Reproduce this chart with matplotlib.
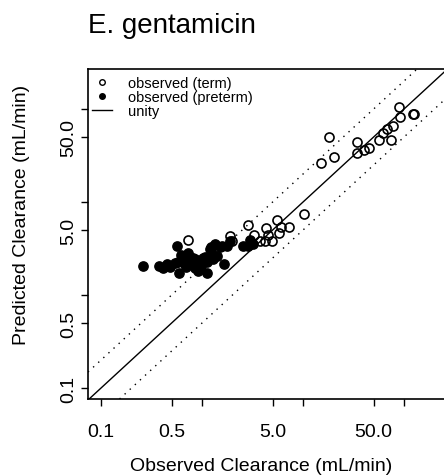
import numpy as np
import matplotlib
matplotlib.use("Agg")
import matplotlib.pyplot as plt
from matplotlib.lines import Line2D

plt.rcParams['font.family'] = ['Liberation Sans', 'DejaVu Sans']

# observed vs predicted clearance (mL/min)
term_obs = [89.2, 91.2, 122.8, 125.6, 18.1, 34.3, 77.8, 67.9, 62.0, 56.5, 74.3,
            45.0, 40.1, 34.3, 20.3, 15.1, 10.2, 5.53, 7.27, 6.05, 2.85, 4.30,
            3.27, 5.78, 4.50, 4.20, 4.93, 3.75, 1.89, 0.726, 1.98]
term_pred = [105.0, 82.0, 88.4, 88.4, 50.0, 44.2, 65.6, 60.9, 55.2, 46.4, 46.4,
             38.1, 36.2, 33.7, 30.5, 26.2, 7.43, 6.40, 5.38, 5.38, 5.66, 5.25,
             4.41, 4.64, 4.41, 3.81, 3.81, 3.81, 4.30, 3.90, 3.81]

pre_obs = [0.261, 0.375, 0.411, 0.482, 0.565, 0.592, 1.12, 1.65, 0.620, 0.726,
           0.578, 0.664, 0.778, 0.853, 0.977, 0.955, 1.07, 1.20, 1.35, 1.51,
           1.77, 1.89, 1.26, 1.41, 2.55, 2.85, 2.99, 3.20, 0.760, 0.853, 1.12,
           1.28, 0.541, 0.450, 0.912, 0.695, 1.58, 1.23, 0.81, 1.02, 0.68, 0.87]
pre_pred = [2.05, 2.05, 1.95, 2.00, 3.36, 1.73, 1.73, 2.15, 2.69, 2.83,
            2.26, 2.32, 2.26, 1.95, 2.05, 2.32, 2.57, 3.13, 3.53, 3.28,
            3.36, 3.81, 2.76, 2.63, 3.36, 3.36, 3.90, 3.53, 2.57, 2.44, 2.26,
            2.44, 2.21, 2.15, 1.81, 2.00, 3.36, 3.28, 2.50, 2.50, 2.15, 2.15]

ticks = [0.1, 0.5, 1, 5, 10, 50, 100]
tick_labels = ["0.1", "0.5", "", "5.0", "", "50.0", ""]

W, H = 444, 477
fig = plt.figure(figsize=(W / 100, H / 100), dpi=100)
ax = fig.add_axes([88 / W, (H - 400) / H, (446 - 88) / W, 330 / H])
ax.set_xscale('log')
ax.set_yscale('log')
ax.set_xlim(0.0743, 260)
ax.set_ylim(0.0762, 269)

ax.plot(term_obs, term_pred, 'o', mfc='none', mec='black', mew=1.2, ms=6.5, zorder=3)
ax.plot(pre_obs, pre_pred, 'o', mfc='black', mec='black', ms=6.7, zorder=3)

ax.axline((1, 1), (10, 10), color='black', lw=1.0)
ax.axline((1, 2), (10, 20), color='black', lw=1.0, ls=(0, (1, 4)))
ax.axline((1, 0.5), (10, 5), color='black', lw=1.0, ls=(0, (1, 4)))

ax.xaxis.set_minor_locator(matplotlib.ticker.NullLocator())
ax.yaxis.set_minor_locator(matplotlib.ticker.NullLocator())
ax.set_xticks(ticks)
ax.set_xticklabels(tick_labels)
ax.set_yticks(ticks)
ax.set_yticklabels(tick_labels, rotation=90, va='center')
ax.tick_params(axis='both', length=5, width=1.0, labelsize=14)
ax.tick_params(axis='x', pad=12)
ax.tick_params(axis='y', pad=3)
for s in ax.spines.values():
    s.set_linewidth(1.2)

fig.text(261 / W, 1 - 467 / H, "Observed Clearance (mL/min)", ha='center', va='center', fontsize=14)
fig.text(22 / W, 1 - 215 / H, "Predicted Clearance (mL/min)", ha='center', va='center',
         rotation=90, fontsize=14)
fig.text(88 / W, 1 - 33 / H, "E. gentamicin", ha='left', va='baseline', fontsize=20)

handles = [Line2D([], [], ls='none', marker='o', mfc='none', mec='black', mew=1.0, ms=4),
           Line2D([], [], ls='none', marker='o', mfc='black', mec='black', ms=4),
           Line2D([], [], color='black', lw=1.0)]
ax.legend(handles, ["observed (term)", "observed (preterm)", "unity"],
          loc='upper left', bbox_to_anchor=(0.01, 0.978), frameon=False, fontsize=10.5,
          handlelength=1.4, handletextpad=1.1, labelspacing=0.0, borderpad=0,
          borderaxespad=0)

fig.savefig("out.png", dpi=100)
